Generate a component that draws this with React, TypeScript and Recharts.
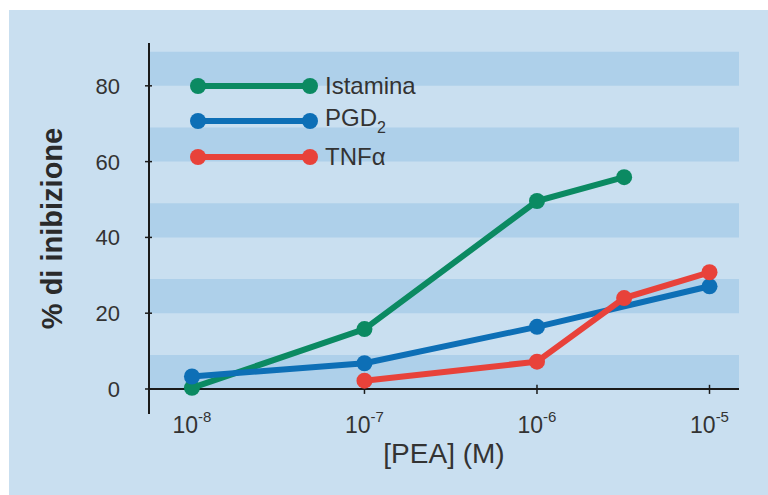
import {
  Legend,
  Line,
  LineChart,
  ReferenceArea,
  ReferenceLine,
  XAxis,
  YAxis,
} from "recharts";

// doses (M) and % inhibition
const istaminaDose = [1e-8, 1e-7, 1e-6, 3.2e-6];
const istaminaValues = [0.3, 15.8, 49.6, 55.9];

const pgdDose = [1e-8, 1e-7, 1e-6, 1e-5];
const pgdValues = [3.3, 6.8, 16.4, 27.1];

const tnfDose = [1e-7, 1e-6, 3.2e-6, 1e-5];
const tnfValues = [2.2, 7.2, 24, 30.8];

const xTicks = [1e-8, 1e-7, 1e-6, 1e-5];
const yTicks = [0, 20, 40, 60, 80];

// shaded horizontal stripes behind the plot
const bandFrom = [0, 20, 40, 60, 80];
const bandTo = [9, 29, 49, 69, 89];

const FONT = '"Liberation Sans", Arial, Helvetica, sans-serif';
const TEXT = "#333333";

type Point = { x: number; y: number };

function toPoints(doses: number[], values: number[]): Point[] {
  return doses.map((x, i) => ({ x, y: values[i] }));
}

const series = [
  { key: "istamina", name: "Istamina", color: "#0b8a62", data: toPoints(istaminaDose, istaminaValues) },
  { key: "pgd2", name: "PGD2", color: "#0d6fb6", data: toPoints(pgdDose, pgdValues) },
  { key: "tnf", name: "TNFα", color: "#e8423a", data: toPoints(tnfDose, tnfValues) },
];

function seriesLabel(name: string) {
  if (name === "PGD2") {
    return (
      <span>
        PGD
        <sub style={{ fontSize: 16, verticalAlign: "-7px" }}>2</sub>
      </span>
    );
  }
  return <span>{name}</span>;
}

function XTick(props: any) {
  const { x, y, payload } = props;
  const exp = Math.round(Math.log10(payload.value));
  return (
    <text x={x} y={y + 19} textAnchor="middle" fill={TEXT} fontFamily={FONT}>
      <tspan fontSize={23}>10</tspan>
      <tspan fontSize={15} dy={-11}>
        {String(exp)}
      </tspan>
    </text>
  );
}

function YTick(props: any) {
  const { x, y, payload } = props;
  return (
    <g>
      <line x1={x - 4} x2={x + 3} y1={y} y2={y} stroke="#1a1a1a" strokeWidth={1.5} />
      <text
        x={x - 29}
        y={y}
        dy="0.36em"
        textAnchor="end"
        fill={TEXT}
        fontFamily={FONT}
        fontSize={22}
      >
        {payload.value}
      </text>
    </g>
  );
}

function LegendBox() {
  return (
    <div style={{ fontFamily: FONT, color: TEXT, fontSize: 24 }}>
      {series.map((s) => (
        <div
          key={s.key}
          style={{ display: "flex", alignItems: "center", height: 35.5 }}
        >
          <svg width={128} height={20} style={{ display: "block" }}>
            <line x1={8} x2={120} y1={10} y2={10} stroke={s.color} strokeWidth={6} />
            <circle cx={8} cy={10} r={8} fill={s.color} />
            <circle cx={120} cy={10} r={8} fill={s.color} />
          </svg>
          <div style={{ marginLeft: 7, lineHeight: 1 }}>{seriesLabel(s.name)}</div>
        </div>
      ))}
    </div>
  );
}

export default function App() {
  return (
    <div
      style={{
        position: "absolute",
        left: 9,
        top: 10,
        width: 759,
        height: 485,
        background: "#c9dff0",
      }}
    >
      <LineChart
        width={759}
        height={485}
        margin={{ top: 33, right: 29, bottom: 41, left: 0 }}
      >
        {bandFrom.map((from, i) => (
          <ReferenceArea
            key={from}
            y1={from}
            y2={bandTo[i]}
            fill="#aed0ea"
            fillOpacity={1}
            stroke="none"
            ifOverflow="hidden"
          />
        ))}
        <XAxis
          type="number"
          dataKey="x"
          scale="log"
          domain={[10 ** -8.249, 10 ** -4.829]}
          allowDataOverflow
          ticks={xTicks}
          tick={<XTick />}
          axisLine={false}
          tickLine={false}
          tickSize={0}
          tickMargin={0}
          height={40}
          label={{
            value: "[PEA] (M)",
            position: "insideBottom",
            offset: -9,
            fill: TEXT,
            fontSize: 28,
            fontFamily: FONT,
          }}
        />
        <YAxis
          type="number"
          dataKey="y"
          domain={[-6.6, 91.3]}
          allowDataOverflow
          ticks={yTicks}
          tick={<YTick />}
          tickLine={false}
          tickSize={0}
          tickMargin={0}
          width={140}
          axisLine={{ stroke: "#1a1a1a", strokeWidth: 2 }}
          label={{
            value: "% di inibizione",
            angle: -90,
            position: "insideLeft",
            offset: 43,
            fill: "#2a2a2a",
            fontSize: 29,
            fontWeight: "bold",
            fontFamily: FONT,
            style: { textAnchor: "middle" },
          }}
        />
        <ReferenceLine y={0} stroke="#1a1a1a" strokeWidth={2} />
        {xTicks.map((t) => (
          <ReferenceLine
            key={t}
            segment={[
              { x: t, y: -1.3 },
              { x: t, y: 1.1 },
            ]}
            stroke="#1a1a1a"
            strokeWidth={1.5}
          />
        ))}
        {series.map((s) => (
          <Line
            key={s.key}
            data={s.data}
            dataKey="y"
            name={s.name}
            type="linear"
            stroke={s.color}
            strokeWidth={6}
            dot={{ r: 8, fill: s.color, stroke: "none" }}
            activeDot={false}
            isAnimationActive={false}
          />
        ))}
        <Legend
          layout="horizontal"
          verticalAlign="middle"
          align="center"
          content={<LegendBox />}
          wrapperStyle={{ left: 181, top: 58, width: 300 }}
        />
      </LineChart>
    </div>
  );
}
